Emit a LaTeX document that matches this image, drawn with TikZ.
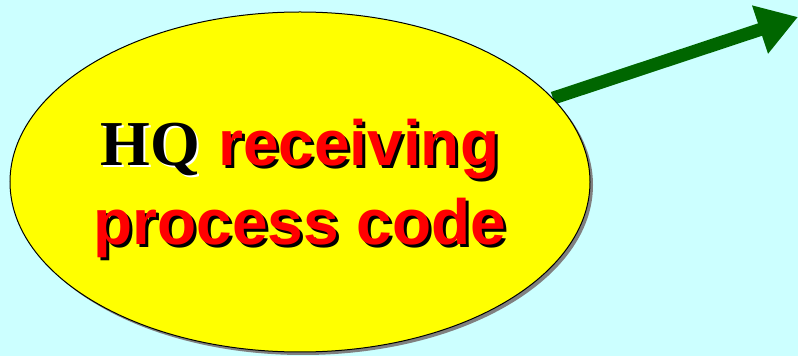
\documentclass[tikz,border=0pt]{standalone}
\usepackage{fontspec}
\setmainfont{Liberation Serif}
\setsansfont{Liberation Sans}
\usetikzlibrary{shapes.geometric,arrows.meta,shadows}
\definecolor{bgcyan}{HTML}{CCFFFF}
\definecolor{arrowgreen}{HTML}{006600}
\definecolor{ellyellow}{HTML}{FFFF00}
\definecolor{shadowgray}{HTML}{808080}
\pgfdeclarelayer{back}
\pgfsetlayers{back,main}
\newcommand\hqf{\rmfamily\bfseries}
\newcommand\rcf{\sffamily\bfseries}
\begin{document}
\begin{tikzpicture}[x=1pt,y=1pt,
  txt/.style={anchor=base,inner sep=0pt,font=\sffamily\bfseries\fontsize{64}{64}\selectfont},
  ellbox/.style={ellipse,draw=black,line width=1pt,fill=ellyellow,
     minimum width=580pt,minimum height=340pt,inner sep=0pt,
     drop shadow={shadow xshift=3pt,shadow yshift=-3pt,fill=shadowgray,opacity=1}},
  bigarrow/.style={draw=arrowgreen,line width=13pt,
     -{Triangle[length=40pt,width=48pt]}}]
\useasboundingbox (0,0) rectangle (798,356);
\node[ellbox] (ell) at (300,174) {};
\coordinate (tip) at (798,339);
\begin{pgfonlayer}{back}
\fill[bgcyan] (0,0) rectangle (798,356);
\draw[bigarrow] (ell) -- (tip);
\end{pgfonlayer}
% shadows
\node[txt] (s1w) at (301.5,188.5) {{\hqf\color{white}HQ} \phantom{\rcf receiving}};
\node[txt] (s1k) at (303,187) {\phantom{\hqf HQ} {\rcf\color{black}receiving}};
\node[txt] (s2k) at (303,108) {\color{black}process code};
% text
\node[txt] (l1) at (300,190) {{\hqf\color{black}HQ} {\rcf\color{red}receiving}};
\node[txt] (l2) at (300,111) {\color{red}process code};
\end{tikzpicture}
\end{document}
